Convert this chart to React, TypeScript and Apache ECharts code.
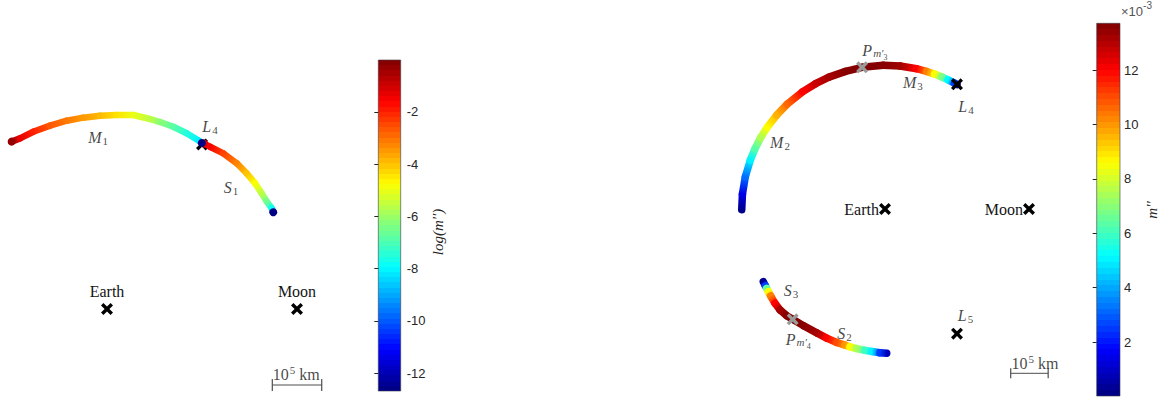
import React, { useEffect, useRef } from "react";
import * as echarts from "echarts";

// ---------- data (rotating frame, unit = Earth–Moon distance, Earth at origin) ----------
const EARTH_MOON_KM = 384400;
const SCALE_BAR_KM = 1e5;

const EARTH = [0, 0];
const MOON = [1, 0];
const L4 = [0.5, 0.866];
const L5 = [0.5, -0.866];
const P_M3 = [-0.159, 0.984];
const P_M4 = [-0.641, -0.766];

// Left panel arcs: [x, y, log10(m'')]
const M1 = [
  [-0.502, 0.881, -0.3],
  [-0.458, 0.898, -1.3],
  [-0.388, 0.933, -2.0],
  [-0.3, 0.965, -2.7],
  [-0.212, 0.991, -3.1],
  [-0.125, 1.007, -3.5],
  [-0.037, 1.017, -3.9],
  [0.051, 1.021, -4.4],
  [0.138, 1.021, -5.0],
  [0.226, 1.0, -5.6],
  [0.279, 0.984, -6.2],
  [0.349, 0.959, -6.8],
  [0.419, 0.925, -7.5],
  [0.482, 0.887, -8.1],
  [0.499, 0.874, -12.6],
];
const S1 = [
  [0.511, 0.871, -1.2],
  [0.542, 0.854, -1.5],
  [0.612, 0.819, -2.4],
  [0.683, 0.767, -3.2],
  [0.735, 0.714, -4.0],
  [0.779, 0.662, -4.8],
  [0.814, 0.609, -5.6],
  [0.841, 0.565, -6.5],
  [0.867, 0.53, -7.8],
  [0.875, 0.509, -12.6],
];

// Right panel arcs: [x, y, m'' (×10^-3)]
const M2 = [
  [-0.995, -0.005, 0.2],
  [-0.99, 0.104, 1.4],
  [-0.97, 0.224, 3.2],
  [-0.935, 0.34, 5.0],
  [-0.902, 0.42, 6.3],
  [-0.862, 0.498, 7.5],
  [-0.815, 0.571, 8.6],
  [-0.751, 0.653, 9.6],
  [-0.679, 0.728, 10.6],
  [-0.571, 0.815, 12.0],
  [-0.482, 0.87, 12.7],
  [-0.389, 0.916, 13.2],
  [-0.274, 0.956, 13.6],
  [-0.159, 0.984, 13.7],
];
const M3 = [
  [-0.159, 0.984, 13.7],
  [-0.012, 0.998, 13.6],
  [0.105, 0.993, 13.3],
  [0.22, 0.974, 12.0],
  [0.289, 0.955, 10.3],
  [0.345, 0.937, 8.6],
  [0.394, 0.917, 6.9],
  [0.438, 0.897, 5.1],
  [0.482, 0.874, 2.5],
  [0.5, 0.864, 1.0],
];
const S3 = [
  [-0.845, -0.505, 0.3],
  [-0.831, -0.533, 2.5],
  [-0.822, -0.551, 6.5],
  [-0.81, -0.574, 8.6],
  [-0.794, -0.604, 10.3],
  [-0.764, -0.655, 12.0],
  [-0.729, -0.701, 13.2],
  [-0.683, -0.741, 13.6],
  [-0.641, -0.766, 13.7],
];
const S2 = [
  [-0.641, -0.766, 13.7],
  [-0.567, -0.81, 13.6],
  [-0.474, -0.86, 13.2],
  [-0.405, -0.897, 12.0],
  [-0.335, -0.927, 11.0],
  [-0.278, -0.945, 10.0],
  [-0.243, -0.957, 8.6],
  [-0.197, -0.969, 7.5],
  [-0.139, -0.982, 6.0],
  [-0.092, -0.99, 5.0],
  [-0.035, -0.998, 2.5],
  [0.012, -1.002, 0.8],
];

// Colour bars
const LOG_RANGE = [-12.68, -0.02];
const LOG_TICKS = [-12, -10, -8, -6, -4, -2];
const MPP_RANGE = [0.02, 13.72]; // ×10^-3
const MPP_TICKS = [2, 4, 6, 8, 10, 12];

// ---------- annotations (placement) ----------
const SCALE_LEFT_AT = [0.87, -0.4];
const SCALE_RIGHT_AT = [0.873, -1.141];

const LEFT_NOTES = [
  { text: "{i|M}{sub|1}", at: [-0.047, 0.903] },
  { text: "{i|S}{sub|1}", at: [0.653, 0.642] },
  { text: "{i|L}{sub|4}", at: [0.542, 0.958] },
  { text: "{n|10}{sup|5}{n| km}", at: [0.873, -0.345], align: "left" },
];
const RIGHT_NOTES = [
  { text: "{i|M}{sub|2}", at: [-0.729, 0.462] },
  { text: "{i|M}{sub|3}", at: [0.194, 0.878] },
  { text: "{i|S}{sub|3}", at: [-0.653, -0.569] },
  { text: "{i|S}{sub|2}", at: [-0.281, -0.868] },
  { text: "{i|L}{sub|4}", at: [0.5625, 0.715] },
  { text: "{i|L}{sub|5}", at: [0.559, -0.74] },
  { text: "{i|P}{isub|m′}{ssub|3}", at: [-0.07, 1.104] },
  { text: "{i|P}{isub|m′}{ssub|4}", at: [-0.602, -0.903] },
  { text: "{n|10}{sup|5}{n| km}", at: [0.879, -1.075], align: "left" },
];

// ---------- styles ----------
const SERIF = '"Liberation Serif", "Times New Roman", serif';
const SANS = '"Liberation Sans", Arial, Helvetica, sans-serif';
const TXT = "#141414";
const AXC = "#262626";
const XPATH =
  "path://M0,2L2,0L5,3L8,0L10,2L7,5L10,8L8,10L5,7L2,10L0,8L3,5Z";

const RICH: any = {
  i: { fontFamily: SERIF, fontStyle: "italic", fontSize: 16, lineHeight: 24, color: TXT },
  n: { fontFamily: SERIF, fontSize: 16, lineHeight: 24, color: TXT },
  sub: { fontFamily: SERIF, fontSize: 11, lineHeight: 11, verticalAlign: "top", padding: [10, 0, 0, 1], color: TXT },
  sup: { fontFamily: SERIF, fontSize: 11, lineHeight: 11, verticalAlign: "top", padding: [2, 0, 0, 1], color: TXT },
  isub: { fontFamily: SERIF, fontStyle: "italic", fontSize: 11, lineHeight: 11, verticalAlign: "top", padding: [9, 0, 0, 1], color: TXT },
  ssub: { fontFamily: SERIF, fontSize: 8, lineHeight: 8, verticalAlign: "top", padding: [15, 0, 0, 0], color: TXT },
};

function jet(f: number) {
  const c = (v: number) => Math.round(255 * Math.max(0, Math.min(1, v)));
  const r = c(1.5 - Math.abs(4 * f - 3));
  const g = c(1.5 - Math.abs(4 * f - 2));
  const b = c(1.5 - Math.abs(4 * f - 1));
  return `rgb(${r},${g},${b})`;
}

function segments(pts: number[][]) {
  const out: number[][] = [];
  for (let i = 0; i < pts.length - 1; i++) {
    out.push([
      pts[i][0], pts[i][1], pts[i + 1][0], pts[i + 1][1], pts[i][2], pts[i + 1][2],
      i === 0 ? 1 : 0, i === pts.length - 2 ? 1 : 0,
    ]);
  }
  return out;
}

function arcRenderer(range: number[], width: number, dotR: number) {
  return (_params: any, api: any) => {
    const p1 = api.coord([api.value(0), api.value(1)]);
    const p2 = api.coord([api.value(2), api.value(3)]);
    const f = (v: number) => (v - range[0]) / (range[1] - range[0]);
    const c1 = jet(f(api.value(4)));
    const c2 = jet(f(api.value(5)));
    const grad = new echarts.graphic.LinearGradient(
      p1[0], p1[1], p2[0], p2[1],
      [{ offset: 0, color: c1 }, { offset: 1, color: c2 }],
      true
    );
    const children: any[] = [
      {
        type: "line",
        shape: { x1: p1[0], y1: p1[1], x2: p2[0], y2: p2[1] },
        style: { stroke: grad, lineWidth: width, lineCap: "round" },
      },
    ];
    if (dotR > 0 && api.value(6)) children.push({ type: "circle", shape: { cx: p1[0], cy: p1[1], r: dotR }, style: { fill: c1 } });
    if (dotR > 0 && api.value(7)) children.push({ type: "circle", shape: { cx: p2[0], cy: p2[1], r: dotR }, style: { fill: c2 } });
    return { type: "group", children };
  };
}

function colorbarRenderer() {
  return (_params: any, api: any) => {
    const tl = api.coord([0, api.value(1)]);
    const br = api.coord([1, api.value(0)]);
    const n = 64;
    const stops: any[] = [];
    for (let j = 0; j < n; j++) {
      const col = jet((n - 1 - j + 0.5) / n);
      stops.push({ offset: j / n, color: col });
      stops.push({ offset: (j + 1) / n, color: col });
    }
    return {
      type: "rect",
      shape: { x: tl[0], y: tl[1], width: br[0] - tl[0], height: br[1] - tl[1] },
      style: { fill: new echarts.graphic.LinearGradient(0, 0, 0, 1, stops), stroke: "#3a3a4a", lineWidth: 0.6 },
    };
  };
}

function arcSeries(pts: number[][], grid: number, range: number[], width: number, dotR: number, z: number) {
  return {
    type: "custom",
    coordinateSystem: "cartesian2d",
    xAxisIndex: grid,
    yAxisIndex: grid,
    encode: { x: [0, 2], y: [1, 3] },
    data: segments(pts),
    renderItem: arcRenderer(range, width, dotR),
    silent: true,
    z,
  };
}

function noteSeries(notes: any[], grid: number) {
  return {
    type: "scatter",
    xAxisIndex: grid,
    yAxisIndex: grid,
    symbolSize: 1,
    itemStyle: { color: "rgba(0,0,0,0)" },
    silent: true,
    z: 8,
    label: { show: true, position: "inside", rich: RICH, verticalAlign: "middle" },
    data: notes.map((nt) => ({
      value: nt.at,
      label: { formatter: nt.text, align: nt.align || "center" },
    })),
  };
}

function scaleSeries(at: number[], grid: number, tick: number) {
  const len = SCALE_BAR_KM / EARTH_MOON_KM;
  return {
    type: "line",
    xAxisIndex: grid,
    yAxisIndex: grid,
    data: [[at[0], at[1]], [at[0] + len, at[1]]],
    symbol: "rect",
    symbolSize: [1.2, tick],
    showSymbol: true,
    itemStyle: { color: "#4d4d4d" },
    lineStyle: { color: "#4d4d4d", width: 1 },
    silent: true,
    z: 2,
  };
}

function markerSeries(items: any[], grid: number, color: string, z: number, labelPos: string, dist: number) {
  return {
    type: "scatter",
    xAxisIndex: grid,
    yAxisIndex: grid,
    symbol: XPATH,
    symbolSize: 12,
    itemStyle: { color, opacity: 1 },
    silent: true,
    z,
    label: {
      show: true,
      position: labelPos,
      distance: dist,
      formatter: "{b}",
      fontFamily: SERIF,
      fontSize: 16,
      color: TXT,
    },
    data: items,
  };
}

const hidden = (gridIndex: number, min: number, max: number) => ({
  gridIndex, type: "value", min, max, show: false,
});

const cbAxis = (gridIndex: number, range: number[], ticks: number[], margin: number) => ({
  gridIndex,
  type: "value",
  min: range[0],
  max: range[1],
  position: "right",
  axisLine: { show: false },
  splitLine: { show: false },
  axisTick: { show: true, inside: true, length: 4, customValues: ticks, lineStyle: { color: AXC, width: 1 } },
  axisLabel: { show: true, customValues: ticks, color: AXC, fontFamily: SANS, fontSize: 13, margin },
});

export default function App() {
  const ref = useRef<HTMLDivElement>(null);
  useEffect(() => {
    if (!ref.current) return;
    const chart = echarts.init(ref.current, undefined, { renderer: "svg" });
    const option: any = {
      animation: false,
      backgroundColor: "#ffffff",
      grid: [
        { left: 2.5, top: 100, width: 361, height: 294.5, outerBoundsMode: "none" },
        { left: 726.6, top: 36.2, width: 331.2, height: 345.6, outerBoundsMode: "none" },
        { left: 378.3, top: 60, width: 22.4, height: 331, outerBoundsMode: "none" },
        { left: 1096.7, top: 23.3, width: 23.3, height: 372.7, outerBoundsMode: "none" },
      ],
      xAxis: [hidden(0, -0.55, 1.35), hidden(1, -1.1, 1.2), hidden(2, 0, 1), hidden(3, 0, 1)],
      yAxis: [
        hidden(0, -0.45, 1.1),
        hidden(1, -1.2, 1.2),
        cbAxis(2, LOG_RANGE, LOG_TICKS, 6),
        cbAxis(3, MPP_RANGE, MPP_TICKS, 4),
      ],
      series: [
        // left panel
        markerSeries([{ name: "", value: L4 }], 0, "#000", 1, "top", 4),
        arcSeries(S1, 0, LOG_RANGE, 6.5, 4, 2),
        arcSeries(M1, 0, LOG_RANGE, 6.5, 4, 3),
        markerSeries([{ name: "Earth", value: EARTH }, { name: "Moon", value: MOON }], 0, "#000", 4, "top", 4),
        scaleSeries(SCALE_LEFT_AT, 0, 12),
        noteSeries(LEFT_NOTES, 0),
        // right panel
        arcSeries(M2, 1, MPP_RANGE, 7.5, 0, 2),
        arcSeries(M3, 1, MPP_RANGE, 7.5, 0, 2),
        arcSeries(S3, 1, MPP_RANGE, 7.5, 0, 2),
        arcSeries(S2, 1, MPP_RANGE, 7.5, 0, 2),
        markerSeries([{ name: "Earth", value: EARTH }, { name: "Moon", value: MOON }], 1, "#000", 4, "left", 0),
        markerSeries([{ name: "", value: L4 }, { name: "", value: L5 }], 1, "#000", 4, "left", 1),
        markerSeries([{ name: "", value: P_M3 }, { name: "", value: P_M4 }], 1, "#9a9a9a", 5, "left", 1),
        scaleSeries(SCALE_RIGHT_AT, 1, 10),
        noteSeries(RIGHT_NOTES, 1),
        // colour bars
        {
          type: "custom",
          coordinateSystem: "cartesian2d",
          xAxisIndex: 2,
          yAxisIndex: 2,
          encode: { y: [0, 1] },
          data: [[LOG_RANGE[0], LOG_RANGE[1]]],
          renderItem: colorbarRenderer(),
          silent: true,
          z: -1,
        },
        {
          type: "custom",
          coordinateSystem: "cartesian2d",
          xAxisIndex: 3,
          yAxisIndex: 3,
          encode: { y: [0, 1] },
          data: [[MPP_RANGE[0], MPP_RANGE[1]]],
          renderItem: colorbarRenderer(),
          silent: true,
          z: -1,
        },
      ],
      graphic: [
        {
          type: "text",
          x: 438,
          y: 232,
          rotation: Math.PI / 2,
          style: {
            text: "log(m′′)",
            fontFamily: SERIF,
            fontStyle: "italic",
            fontSize: 15,
            fill: AXC,
            align: "center",
            verticalAlign: "middle",
          },
        },
        {
          type: "text",
          x: 1152,
          y: 210,
          rotation: Math.PI / 2,
          style: {
            text: "m′′",
            fontFamily: SERIF,
            fontStyle: "italic",
            fontSize: 15,
            fill: AXC,
            align: "center",
            verticalAlign: "middle",
          },
        },
        {
          type: "text",
          x: 1121,
          y: 0,
          style: {
            text: "{t|×10}{e|-3}",
            align: "left",
            verticalAlign: "top",
            rich: {
              t: { fontFamily: SANS, fontSize: 13, lineHeight: 22, fill: "#555", color: "#555" },
              e: { fontFamily: SANS, fontSize: 10, lineHeight: 10, verticalAlign: "top", fill: "#555", color: "#555" },
            },
          },
        },
      ],
    };
    chart.setOption(option);
    return () => chart.dispose();
  }, []);
  return (
    <div
      ref={ref}
      style={{ position: "fixed", left: 0, top: 0, width: 1173, height: 403, background: "#fff" }}
    />
  );
}
